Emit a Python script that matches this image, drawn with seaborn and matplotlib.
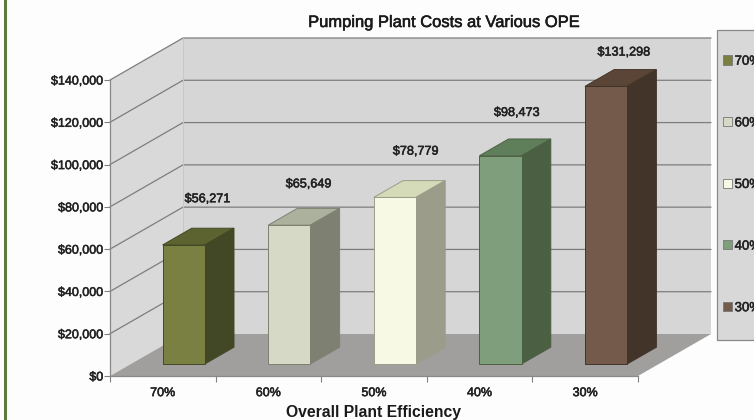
import matplotlib
matplotlib.use('Agg')
import matplotlib.pyplot as plt
import matplotlib.patheffects as pe
from matplotlib.patches import Polygon, Rectangle
from matplotlib.text import Text
import seaborn as sns

'''
Data read off the picture
'''
categories = ['70%', '60%', '50%', '40%', '30%']
costs = [56271, 65649, 78779, 98473, 131298]
yTicks = [0, 20000, 40000, 60000, 80000, 100000, 120000, 140000]

frontColors = ['#7a8042', '#d6d9c6', '#f8f9e4', '#7f9f7c', '#745a4a']
topColors = ['#5d6330', '#abb19c', '#d5dab8', '#5f7f5a', '#5b4536']
sideColors = ['#424725', '#7e8072', '#9b9d8a', '#4b6043', '#433429']

'''
Setup: the axes is the front plane of the box, depth is an oblique shift
'''
W, H = 754, 420
axLeft, axRight, axTop, axBottom = 110, 638, 80, 376
depthPxX, depthPxY = 73, 42
depthX = depthPxX / ((axRight - axLeft) / len(categories))
depthY = depthPxY / (axBottom - axTop) * yTicks[-1]
barFront, barBack = 0.286, 0.686

sns.set_theme(style='white')
plt.rcParams['font.family'] = ['Liberation Sans', 'DejaVu Sans']

fig = plt.figure(figsize=(W / 100, H / 100), dpi=100, facecolor='#fdfdfe')
ax = fig.add_axes([axLeft / W, 1 - axBottom / H, (axRight - axLeft) / W, (axBottom - axTop) / H])
ax.patch.set_visible(False)


def proj(x, y, d):
    return (x + d * depthX, y + d * depthY)


def addPoly(points, color, edge='none', z=1):
    ax.add_patch(Polygon(points, closed=True, facecolor=color, edgecolor=edge, linewidth=0.7, zorder=z, clip_on=False))


sns.barplot(x=categories, y=costs, hue=categories, palette=frontColors, width=0.4, saturation=1,
            legend=False, ax=ax, linewidth=0.7, zorder=4)
bars = list(ax.patches)
x0, x1 = -0.5, len(categories) - 0.5
y0, y1 = 0, yTicks[-1]
ax.set_xlim(x0, x1)
ax.set_ylim(y0, y1)

# walls and floor
addPoly([proj(x0, y0, 0), proj(x0, y1, 0), proj(x0, y1, 1), proj(x0, y0, 1)], '#dad9d9')
addPoly([proj(x0, y0, 1), proj(x0, y1, 1), proj(x1, y1, 1), proj(x1, y0, 1)], '#d7d6d6')
addPoly([proj(x0, y0, 0), proj(x1, y0, 0), proj(x1, y0, 1), proj(x0, y0, 1)], '#a19e9e', z=2)

for v in yTicks[1:]:
    a, b = proj(x0, v, 0), proj(x0, v, 1)
    c = proj(x1, v, 1)
    ax.plot([a[0], b[0], c[0]], [a[1], b[1], c[1]], color='#7d7d80', lw=0.9, zorder=1.5, clip_on=False)
a, b = proj(x0, y1, 1), proj(x0, y0, 1)
ax.plot([a[0], b[0]], [a[1], b[1]], color='#c8c7c7', lw=0.7, zorder=1.5, clip_on=False)

# extrude the bars seaborn drew
labelLift = [29, 24, 29, 26, 17]
labelShift = [-5.5, -10, -8.5, -13, -11.5]
for i, bar in enumerate(bars):
    left = bar.get_x()
    right = left + bar.get_width()
    h = bar.get_height()
    bar.set_x(left + barFront * depthX)
    bar.set_y(barFront * depthY)
    bar.set_clip_on(False)
    bar.set_edgecolor(sideColors[i])
    addPoly([proj(left, h, barFront), proj(right, h, barFront), proj(right, h, barBack), proj(left, h, barBack)],
            topColors[i], sideColors[i], z=3)
    addPoly([proj(right, 0, barFront), proj(right, h, barFront), proj(right, h, barBack), proj(right, 0, barBack)],
            sideColors[i], sideColors[i], z=3)
    ax.annotate(f'${costs[i]:,}', xy=proj((left + right) / 2, h, barBack),
                xytext=(labelShift[i] * 0.72, labelLift[i] * 0.72), annotation_clip=False,
                textcoords='offset points', ha='center', va='center', fontsize=9.1, color='#222222', zorder=6)

# axes
ax.set_yticks(yTicks)
ax.set_yticklabels([f'${v:,}' for v in yTicks], fontsize=9, color='#222222')
ax.set_xticks(range(len(categories)))
ax.set_xticklabels(categories, fontsize=9, color='#222222')
ax.set_xticks([x0 + i for i in range(len(categories) + 1)], minor=True)
ax.tick_params(axis='x', which='major', length=0, pad=8)
ax.tick_params(axis='x', which='minor', length=4.5, width=0.8, color='#808080', bottom=True)
ax.tick_params(axis='y', length=4.3, width=0.8, color='#808080', left=True, pad=0.5)
sns.despine(ax=ax)
for side in ['left', 'bottom']:
    ax.spines[side].set_color('#8a8888')
    ax.spines[side].set_linewidth(0.9)
    ax.spines[side].set_zorder(5)
ax.set_ylabel('')
ax.set_xlabel('Overall Plant Efficiency', fontsize=11.3, fontweight='bold', color='#1a1a1a')
ax.xaxis.set_label_coords((373 - axLeft) / (axRight - axLeft), -(412 - axBottom) / (axBottom - axTop))
ax.xaxis.label.set_va('center')
ax.set_title('Pumping Plant Costs at Various OPE', fontsize=11.9, color='#1a1a1a', pad=0,
             x=(444.5 - axLeft) / (axRight - axLeft), y=(axBottom - 22.5) / (axBottom - axTop), va='center')

# legend box runs off the right edge like the original
fig.add_artist(Rectangle((717 / W, 1 - 340 / H), 60 / W, 310 / H, transform=fig.transFigure,
                         facecolor='#d9d8d8', edgecolor='#8a8888', linewidth=0.9))
handles = [Rectangle((0, 0), 1, 1, facecolor=c, edgecolor='#777777', linewidth=0.6) for c in frontColors]
leg = fig.legend(handles, categories, loc='upper left', bbox_to_anchor=(723 / W, 1 - 55.5 / H), borderaxespad=0,
                 frameon=False, fontsize=9.5, handlelength=0.68, handleheight=0.68, handletextpad=0.2,
                 labelspacing=3.75, borderpad=0)
for t in leg.get_texts():
    t.set_color('#222222')

# green strip down the left edge
fig.add_artist(Rectangle((4 / W, 0), 3 / W, 1, transform=fig.transFigure, facecolor='#5b7a3c', edgecolor='none'))

# the scan makes all the text look heavier
for t in fig.findobj(Text):
    if t.get_fontweight() != 'bold':
        t.set_path_effects([pe.withStroke(linewidth=0.4, foreground=t.get_color())])

plt.savefig('out.png', dpi=100)
